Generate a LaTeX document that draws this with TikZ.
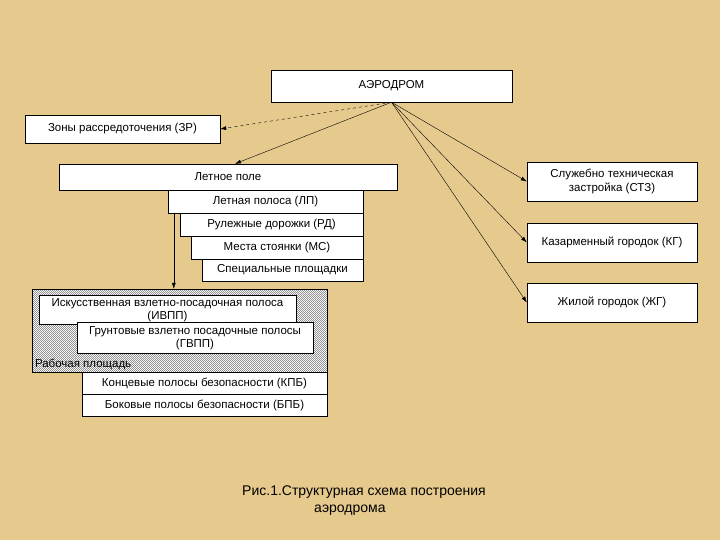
\documentclass[tikz,border=0pt]{standalone}
\usepackage{fontspec}
\setmainfont{Liberation Sans}
\usetikzlibrary{arrows.meta,positioning,calc,patterns.meta}
\definecolor{parch}{HTML}{E6CA8D}
\tikzdeclarepattern{name=finehatch, type=uncolored, bounding box={(0,0) and (2.4pt,2.4pt)},
    tile size={(2.4pt,2.4pt)}, code={\draw[line width=0.45pt] (0,2.4pt) -- (2.4pt,0);}}

\begin{document}
\begin{tikzpicture}[x=1pt,y=-1pt, every node/.style={font=\fontsize{11.5}{13.5}\selectfont},
    box/.style={draw, fill=white, inner sep=1pt, align=center},
    link/.style={-{Latex[length=6pt,width=4pt]}}]
    \fill[parch] (0,0) rectangle (720,540);
    \useasboundingbox (0,0) rectangle (720,540);
    % top level
    \node[box, minimum width=241pt, minimum height=32pt] (aero) at (391.5,86) {АЭРОДРОМ};
    \node[box, minimum width=195pt, minimum height=28pt] (zr) at (122.5,129) {Зоны рассредоточения (ЗР)};
    \node[box, minimum width=338pt, minimum height=26pt] (lpole) at (228,177) {Летное поле};
    % parts of the flying field
    \node[box, minimum width=195pt, minimum height=23pt] (lpol) at (265.5,201.5) {Летная полоса (ЛП)};
    \node[box, minimum width=183pt, minimum height=23pt] (rd) at (271.5,224.5) {Рулежные дорожки (РД)};
    \node[box, minimum width=172pt, minimum height=23pt] (ms) at (277,247.5) {Места стоянки (МС)};
    \node[box, minimum width=161pt, minimum height=22pt] (sp) at (282.5,270) {Специальные площадки};
    % working area
    \node[draw, minimum width=295pt, minimum height=83pt, preaction={fill=white}, pattern=finehatch, pattern color=black!65] (work) at (179.5,330.5) {};
    \node[anchor=south west, inner sep=1pt] (worklbl) at ([xshift=2pt,yshift=1pt]work.south west) {Рабочая площадь};
    \node[box, minimum width=257pt, minimum height=29pt] (ivpp) at (167.5,310) {Искусственная взлетно-посадочная полоса\\(ИВПП)};
    \node[box, minimum width=236pt, minimum height=31pt] (gvpp) at (195,338) {Грунтовые взлетно посадочные полосы\\(ГВПП)};
    \node[box, minimum width=245pt, minimum height=22pt] (kpb) at (204.5,383) {Концевые полосы безопасности (КПБ)};
    \node[box, minimum width=245pt, minimum height=22pt] (bpb) at (204.5,405) {Боковые полосы безопасности (БПБ)};
    % buildings
    \node[box, minimum width=170pt, minimum height=39pt] (stz) at (612,181.5) {Служебно техническая\\застройка (СТЗ)};
    \node[box, minimum width=170pt, minimum height=39pt] (kg) at (612,242.5) {Казарменный городок (КГ)};
    \node[box, minimum width=170pt, minimum height=39pt] (zhg) at (612,302.5) {Жилой городок (ЖГ)};
    % caption
    \node[align=left, font=\fontsize{14}{17}\selectfont] (cap) at (364,501) {Рис.1.Структурная схема построения\\\hspace*{72pt}аэродрома};
    % connectors
    \draw[link, dashed] (aero.south) -- (zr.east);
    \draw[link] (aero.south) -- ([xshift=7pt]lpole.north);
    \draw[link] (aero.south) -- (stz.west);
    \draw[link] (aero.south) -- (kg.west);
    \draw[link] (aero.south) -- (zhg.west);
    \draw[link] ([xshift=6pt]lpol.south west) -- ([xshift=6pt]lpol.south west |- work.north);
\end{tikzpicture}
\end{document}
